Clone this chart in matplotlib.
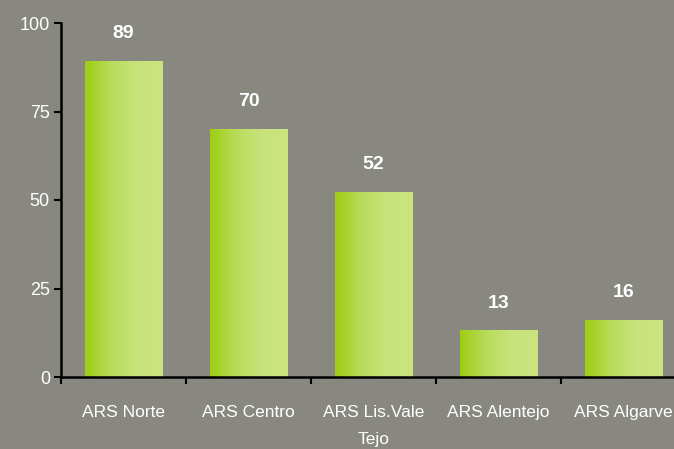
import numpy as np
import matplotlib
matplotlib.use("Agg")
import matplotlib.pyplot as plt
from matplotlib.colors import LinearSegmentedColormap

categories = ["ARS Norte", "ARS Centro", "ARS Lis.Vale\nTejo", "ARS Alentejo", "ARS Algarve"]
values = [89, 70, 52, 13, 16]
yticks = [0, 25, 50, 75, 100]

bg = "#898880"
plt.rcParams['font.family'] = ['Liberation Sans', 'DejaVu Sans']

fig = plt.figure(figsize=(6.74, 4.49), dpi=100, facecolor=bg)
ax = fig.add_axes([61/674, 72/449, 625/674, 354/449])
ax.set_facecolor(bg)

x = np.arange(len(values))
width = 0.62
bars = ax.bar(x, values, width=width, color="none", edgecolor="none")

cmap = LinearSegmentedColormap.from_list("g", ["#9ccd12", "#b8dc5a", "#c9e37c", "#cbe47e"])
grad = np.linspace(0, 1, 256).reshape(1, -1)
for b in bars:
    ax.imshow(grad, cmap=cmap, aspect="auto", interpolation="bilinear",
              extent=[b.get_x(), b.get_x() + b.get_width(), 0, b.get_height()],
              zorder=2)
    ax.annotate(f"{int(b.get_height())}", (b.get_x() + b.get_width() / 2, b.get_height()),
                xytext=(0, 14), textcoords="offset points", ha="center", va="bottom",
                color="white", fontsize=14, fontweight="bold")

ax.set_xlim(-0.5, len(values) - 0.5)
ax.set_ylim(0, 100)
ax.set_yticks(yticks)
ax.set_xticks(np.arange(len(values) + 1) - 0.5)
ax.set_xticklabels([])
ax.set_xticks(x, minor=True)
ax.set_xticklabels(categories, minor=True, linespacing=2.0)
ax.tick_params(axis="x", which="minor", length=0, pad=20, labelcolor="white", labelsize=12.5)
ax.tick_params(axis="x", which="major", length=5, width=1.5, direction="out", color="black")
ax.tick_params(axis="y", length=5, width=1.5, color="black", labelcolor="white", labelsize=13, pad=3)

for s in ["top", "right"]:
    ax.spines[s].set_visible(False)
for s in ["left", "bottom"]:
    ax.spines[s].set_color("black")
    ax.spines[s].set_linewidth(1.8)

fig.savefig("out.png", dpi=100, facecolor=bg)
